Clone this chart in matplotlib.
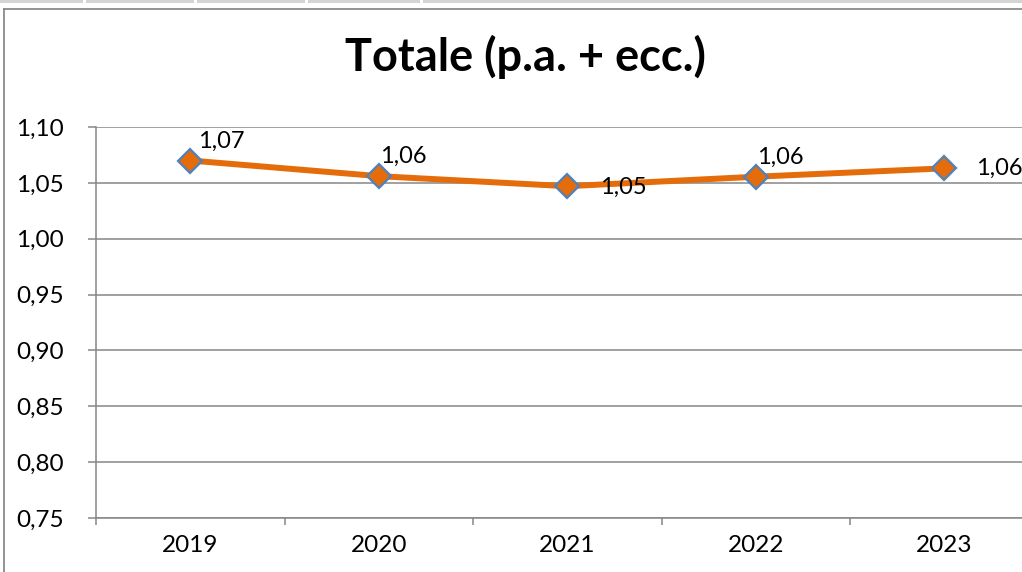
import matplotlib
matplotlib.use("Agg")
import matplotlib.pyplot as plt
from matplotlib.patches import Rectangle
from matplotlib.lines import Line2D

plt.rcParams['font.family'] = ['Lato', 'DejaVu Sans']

years = ['2019', '2020', '2021', '2022', '2023']
values = [1.070, 1.056, 1.047, 1.0555, 1.063]
y_ticks = [0.75, 0.80, 0.85, 0.90, 0.95, 1.00, 1.05, 1.10]

# where each data label sits relative to its point (pixels)
label_offsets = [(8, 19), (1, 20), (33, -1), (1, 19), (32, 0)]

W, H = 1022, 572
fig = plt.figure(figsize=(W / 100, H / 100), dpi=100)

# strip of sheet cells along the top edge and the chart frame
for x0, x1 in [(0, 83), (86, 194), (197, 305), (308, 420), (423, 1022)]:
    fig.patches.append(Rectangle((x0 / W, 1 - 2.5 / H), (x1 - x0) / W, 2.5 / H,
                                 transform=fig.transFigure, color='#d4d4d4', lw=0))
fig.lines.append(Line2D([3.8 / W, 3.8 / W], [0, 1 - 8.5 / H], transform=fig.transFigure,
                        color='#8a8a8a', lw=1.3))
fig.lines.append(Line2D([3.8 / W, 1], [1 - 8.5 / H, 1 - 8.5 / H], transform=fig.transFigure,
                        color='#8a8a8a', lw=1.3))

ax = fig.add_axes([96 / W, 1 - 518 / H, 942.5 / W, 391 / H])
x = list(range(len(years)))
ax.plot(x, values, color='#e46c0a', lw=4.3, marker='D', markersize=12.5,
        markerfacecolor='#e46c0a', markeredgecolor='#4f81bd', markeredgewidth=1.6,
        solid_capstyle='round', zorder=3)

for xi, v, (dx, dy) in zip(x, values, label_offsets):
    ax.annotate(f"{v:.2f}".replace('.', ','), (xi, v), xytext=(dx, dy),
                textcoords='offset pixels', ha='left', va='center', fontsize=17)

ax.set_xlim(-0.5, len(years) - 0.5)
ax.set_ylim(0.75, 1.10)
ax.set_yticks(y_ticks)
ax.set_yticklabels([f"{t:.2f}".replace('.', ',') for t in y_ticks])
ax.set_xticks(x)
ax.set_xticklabels(years)
ax.set_xticks([i - 0.5 for i in range(len(years) + 1)], minor=True)

ax.grid(axis='y', color='#868686', lw=1.1)
ax.set_axisbelow(True)
for s in ['top', 'right']:
    ax.spines[s].set_visible(False)
for s in ['left', 'bottom']:
    ax.spines[s].set_color('#868686')
    ax.spines[s].set_linewidth(1.1)

ax.tick_params(axis='y', length=6, width=1.1, color='#868686', pad=17, labelsize=17.5)
ax.tick_params(axis='x', which='major', length=0, pad=12, labelsize=17.5)
ax.tick_params(axis='x', which='minor', length=5, width=1.1, color='#868686')

fig.text(525 / W, 1 - 71 / H, 'Totale (p.a. + ecc.)', ha='center', va='baseline',
         fontsize=32.5, fontweight='bold')

fig.savefig('out.png', dpi=100)
